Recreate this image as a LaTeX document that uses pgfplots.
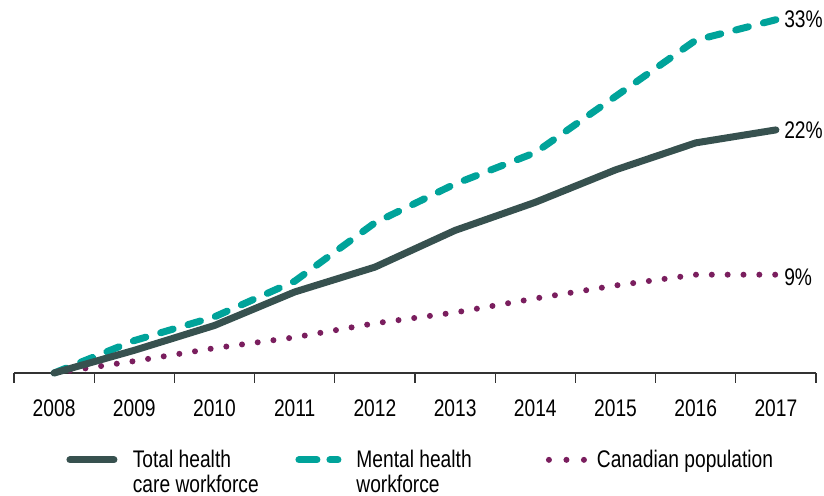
\documentclass[border=0pt]{standalone}
\usepackage{fontspec}
\setmainfont[FakeStretch=0.8]{Liberation Sans}
\usepackage{pgfplots}
\pgfplotsset{compat=1.18}
\definecolor{cgrey}{HTML}{37514F}
\definecolor{cteal}{HTML}{00A39A}
\definecolor{cpurple}{HTML}{7A1E5E}
\definecolor{caxis}{HTML}{333333}
\begin{document}
\begin{tikzpicture}
\useasboundingbox (-7pt,-61.5pt) rectangle (405pt,186.5pt);
\begin{axis}[
  at={(0,0)}, anchor=south west,
  scale only axis,
  width=401pt, height=181.5pt,
  xmin=-0.5, xmax=9.5, ymin=0, ymax=33.6,
  hide y axis,
  axis x line*=bottom,
  axis line style={-, caxis, line width=0.6pt},
  xtick={0,...,9},
  xticklabels={2008,2009,2010,2011,2012,2013,2014,2015,2016,2017},
  major tick length=0pt,
  minor xtick={-0.5,0.5,...,9.5},
  minor tick length=5pt,
  tick align=outside,
  xtick pos=bottom,
  minor tick style={caxis, line width=0.6pt},
  xticklabel style={font=\fontsize{12}{12.5}\selectfont, yshift=-9.75pt},
  clip=false,
  legend columns=3,
  legend style={draw=none, fill=none, at={(axis description cs:0.0654,-0.2)}, anchor=north west,
    font=\fontsize{12}{12.5}\selectfont,
    /tikz/every even column/.append style={column sep=0pt},
    /tikz/every odd column/.append style={column sep=0pt},
    inner sep=0pt, outer sep=0pt},
  legend cell align=left,
]
\addlegendimage{legend image code/.code={\draw[cgrey, line width=3.5pt, line cap=round] (0pt,0pt) -- (22pt,0pt);}}
\addlegendentry[inner xsep=7.7pt]{\begin{tabular}[t]{@{}p{73.6pt}@{}}Total health\\care workforce\end{tabular}}
\addlegendimage{legend image code/.code={\draw[cteal, line width=3.5pt, line cap=round, dash pattern=on 9pt off 6.5pt] (0pt,0pt) -- (19.5pt,0pt);}}
\addlegendentry[inner xsep=7.5pt]{\begin{tabular}[t]{@{}p{87.25pt}@{}}Mental health\\workforce\end{tabular}}
\addlegendimage{legend image code/.code={\draw[cpurple, line width=3pt, line cap=round, dash pattern=on 0pt off 8.75pt] (0pt,0pt) -- (17.5pt,0pt);}}
\addlegendentry[inner xsep=5pt]{Canadian population}

\addplot[forget plot, cpurple, line width=3pt, line cap=round, dash pattern=on 0pt off 7.92pt] coordinates {
(0,0) (1,1.1) (2,2.3) (3,3.3) (4,4.6) (5,5.6) (6,6.9) (7,8.1) (8,9.1) (9,9.1)};
\addplot[forget plot, cteal, line width=3.5pt, line cap=round, line join=round, dash pattern=on 6.5pt off 7.75pt] coordinates {
(0,0) (1,3.0) (2,5.2) (3,8.5) (4,13.9) (5,17.5) (6,20.4) (7,25.6) (8,30.8) (9,32.7)};
\addplot[forget plot, cgrey, line width=3.5pt, line cap=round, line join=round] coordinates {
(0,0) (1,2.1) (2,4.4) (3,7.5) (4,9.8) (5,13.2) (6,15.8) (7,18.8) (8,21.3) (9,22.5)};

\node[anchor=west, font=\fontsize{12}{12.5}\selectfont, inner sep=0pt, xshift=4pt] at (axis cs:9,32.7) {33\%};
\node[anchor=west, font=\fontsize{12}{12.5}\selectfont, inner sep=0pt, xshift=4pt] at (axis cs:9,22.5) {22\%};
\node[anchor=west, font=\fontsize{12}{12.5}\selectfont, inner sep=0pt, xshift=4pt, yshift=-1.5pt] at (axis cs:9,9.1) {9\%};
\end{axis}
\end{tikzpicture}
\end{document}
